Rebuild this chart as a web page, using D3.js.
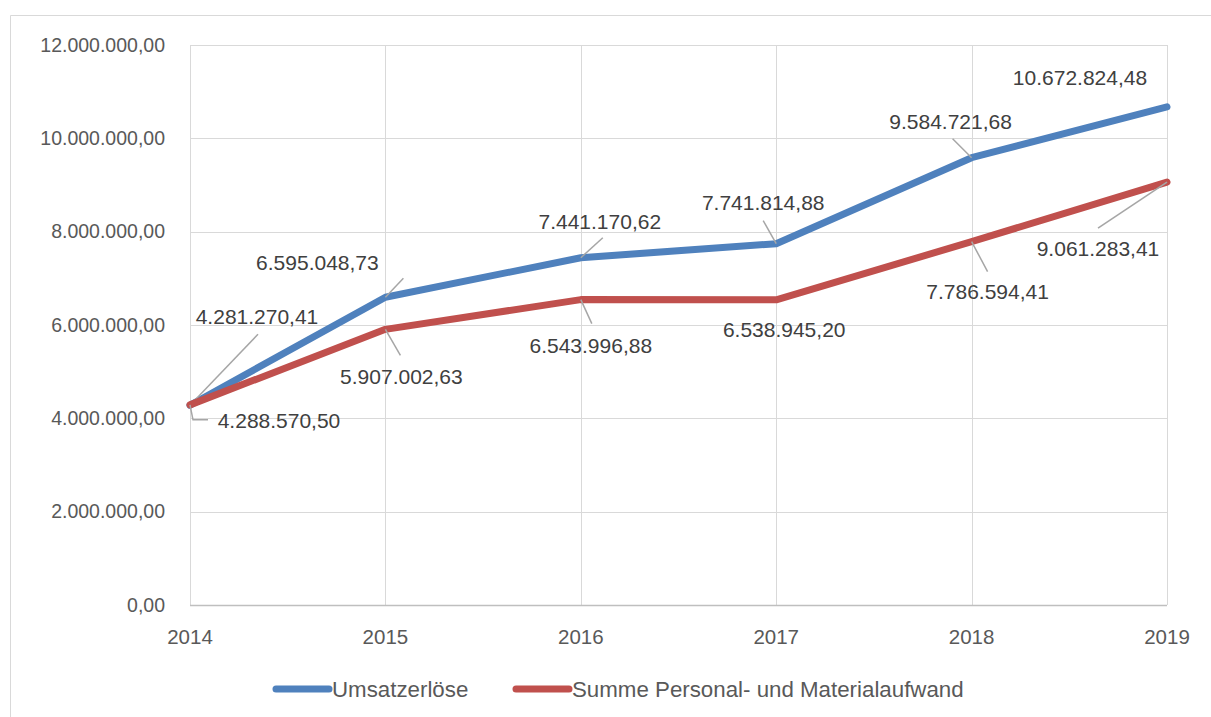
<!DOCTYPE html>
<html>
<head>
<meta charset="utf-8">
<script src="https://cdn.jsdelivr.net/npm/d3@7"></script>
<style>
  body { margin: 0; background: #fff; }
  text { font-family: "Liberation Sans", Arial, sans-serif; }
</style>
</head>
<body>
<svg id="chart" width="1211" height="717"></svg>
<script>
// data
var years = ["2014", "2015", "2016", "2017", "2018", "2019"];
var umsatz = [4281270.41, 6595048.73, 7441170.62, 7741814.88, 9584721.68, 10672824.48];
var aufwand = [4288570.50, 5907002.63, 6543996.88, 6538945.20, 7786594.41, 9061283.41];
var yTicks = [0, 2000000, 4000000, 6000000, 8000000, 10000000, 12000000];
var seriesNames = ["Umsatzerlöse", "Summe Personal- und Materialaufwand"];

// label placement (center of text relative to point) and leader lines
var blueLabelPos = [[67,-89],[-68,-35],[19,-36],[-13,-41],[-21,-36],[-87,-29]];
var redLabelPos  = [[89,16],[16,47],[10,46],[8,30],[16,50],[-69,67]];
var blueLeaders = [[[68,-71]],[[18,-19]],[[22,-20]],[[-13,-23]],[[-19,-19]],null];
var redLeaders  = [[[3,15],[18,15]],[[15,26]],[[11,24]],null,[[16,30]],[[-69,46]]];

var svg = d3.select("#chart");
var plotLeft = 190, plotRight = 1167, plotTop = 45, plotBottom = 605;
var blue = "#4f81bd", red = "#c0504d";

// outer chart border (cropped on right / bottom)
svg.append("path")
  .attr("d", "M10.5,717 L10.5,15.5 L1211,15.5")
  .attr("fill", "none").attr("stroke", "#d9d9d9").attr("stroke-width", 1);

var x = d3.scalePoint().domain(years).range([plotLeft, plotRight]);
var y = d3.scaleLinear().domain([0, 12000000]).range([plotBottom, plotTop]);

var fmt = d3.formatLocale({decimal: ",", thousands: ".", grouping: [3], currency: ["", "€"]}).format(",.2f");

// gridlines
svg.append("g").selectAll("line").data(yTicks.slice(1)).enter().append("line")
  .attr("x1", plotLeft).attr("x2", plotRight)
  .attr("y1", function(d) { return Math.round(y(d)) + 0.5; })
  .attr("y2", function(d) { return Math.round(y(d)) + 0.5; })
  .attr("stroke", "#d9d9d9");
svg.append("g").selectAll("line").data(years).enter().append("line")
  .attr("x1", function(d) { return Math.round(x(d)) + 0.5; })
  .attr("x2", function(d) { return Math.round(x(d)) + 0.5; })
  .attr("y1", plotTop).attr("y2", plotBottom)
  .attr("stroke", "#d9d9d9");

// x axis line
svg.append("line")
  .attr("x1", plotLeft).attr("x2", plotRight)
  .attr("y1", plotBottom + 0.5).attr("y2", plotBottom + 0.5)
  .attr("stroke", "#bfbfbf").attr("stroke-width", 1.5);

// y tick labels
svg.append("g").selectAll("text").data(yTicks).enter().append("text")
  .attr("x", 165)
  .attr("y", function(d) { return y(d); })
  .attr("dy", "0.35em")
  .attr("text-anchor", "end")
  .style("font-size", "19.5px")
  .attr("fill", "#595959")
  .text(function(d) { return fmt(d); });

// x tick labels
svg.append("g").selectAll("text").data(years).enter().append("text")
  .attr("x", function(d) { return x(d); })
  .attr("y", 637)
  .attr("dy", "0.35em")
  .attr("text-anchor", "middle")
  .style("font-size", "20.5px")
  .attr("fill", "#595959")
  .text(function(d) { return d; });

var line = d3.line()
  .x(function(d, i) { return x(years[i]); })
  .y(function(d) { return y(d); });

function drawSeries(values, color, labelPos, leaders) {
  svg.append("path")
    .datum(values)
    .attr("d", line)
    .attr("fill", "none")
    .attr("stroke", color)
    .attr("stroke-width", 7)
    .attr("stroke-linejoin", "round")
    .attr("stroke-linecap", "round");

  values.forEach(function(v, i) {
    var px = x(years[i]), py = y(v);
    if (leaders[i]) {
      var pts = [[px, py]].concat(leaders[i].map(function(o) { return [px + o[0], py + o[1]]; }));
      svg.append("path")
        .attr("d", d3.line()(pts))
        .attr("fill", "none")
        .attr("stroke", "#a6a6a6")
        .attr("stroke-width", 1.5);
    }
  });

  svg.append("g").selectAll("text").data(values).enter().append("text")
    .attr("x", function(d, i) { return x(years[i]) + labelPos[i][0]; })
    .attr("y", function(d, i) { return y(d) + labelPos[i][1]; })
    .attr("dy", "0.35em")
    .attr("text-anchor", "middle")
    .style("font-size", "21px")
    .attr("fill", "#404040")
    .text(function(d) { return fmt(d); });
}

drawSeries(umsatz, blue, blueLabelPos, blueLeaders);
drawSeries(aufwand, red, redLabelPos, redLeaders);

// legend
var legend = svg.append("g").attr("transform", "translate(0,689)");
var legendItems = [{name: seriesNames[0], color: blue, x: 276}, {name: seriesNames[1], color: red, x: 516}];
legendItems.forEach(function(d) {
  legend.append("line")
    .attr("x1", d.x).attr("x2", d.x + 53)
    .attr("y1", 0).attr("y2", 0)
    .attr("stroke", d.color).attr("stroke-width", 7)
    .attr("stroke-linecap", "round");
  legend.append("text")
    .attr("x", d.x + 56)
    .attr("y", 0)
    .attr("dy", "0.35em")
    .style("font-size", "22.3px")
    .attr("fill", "#595959")
    .text(d.name);
});
</script>
</body>
</html>
